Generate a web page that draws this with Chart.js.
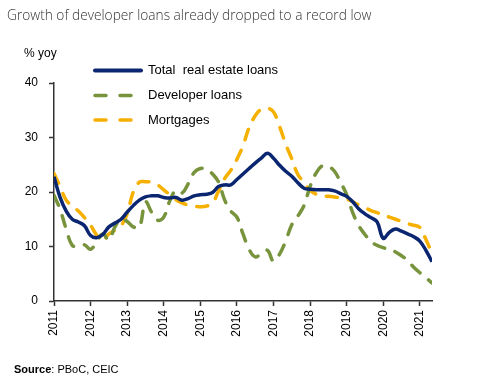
<!DOCTYPE html>
<html>
<head>
<meta charset="utf-8">
<title>Developer loans</title>
<script src="https://cdn.jsdelivr.net/npm/chart.js@4.4.0/dist/chart.umd.min.js"></script>
<style>
  html, body { margin: 0; padding: 0; background: #fff; }
  #wrap { width: 477px; height: 380px; position: relative; }
</style>
</head>
<body>
<div id="wrap"><canvas id="chart" width="477" height="380"></canvas></div>
<script>
// bimonthly observations, Jan 2011 .. May 2021 (decimal years)
const periods = Array.from({ length: 63 }, (_, i) => 2011 + i / 6);
const yearTicks = [2011, 2012, 2013, 2014, 2015, 2016, 2017, 2018, 2019, 2020, 2021];
const yTicks = [0, 10, 20, 30, 40];

const seriesNames = ['Total  real estate loans', 'Developer loans', 'Mortgages'];

const totalLoans = [
  22.8, 19.0, 16.5, 15.0, 14.5, 13.8, 12.0, 11.6, 12.2, 13.6,
  14.3, 15.0, 16.3, 17.5, 18.5, 19.1, 19.3, 19.3, 19.0, 18.9,
  19.0, 18.5, 18.8, 19.3, 19.5, 19.6, 19.9, 21.0, 21.3, 21.3,
  22.3, 23.3, 24.3, 25.3, 26.2, 27.1, 26.2, 24.9, 23.8, 22.9,
  21.7, 20.7, 20.5, 20.4, 20.4, 20.4, 20.2, 19.7, 19.2, 18.2,
  16.9, 16.0, 15.3, 14.5, 11.5, 12.6, 13.2, 12.8, 12.3, 11.8,
  11.0, 9.3, 7.2
];
const developerLoans = [
  19.4, 16.8, 13.2, 10.2, 10.2, 10.3, 9.5, 10.9, 12.3, 11.2,
  13.6, 15.0, 14.6, 13.6, 13.5, 18.2, 16.3, 14.8, 15.4, 18.4,
  20.3, 19.8, 21.5, 23.6, 24.3, 24.2, 23.3, 21.8, 18.5, 16.5,
  15.4, 12.3, 9.5, 8.1, 8.7, 9.3, 7.3, 8.6, 11.0, 14.0,
  15.6, 17.5, 21.0, 23.5, 24.8, 24.7, 23.8, 21.8, 19.5, 16.2,
  13.8, 12.2, 10.9, 10.2, 9.8, 9.4, 9.0, 8.3, 7.4, 6.2,
  5.2, 4.3, 3.3
];
const mortgages = [
  23.4, 21.0, 18.5, 17.4, 16.5, 15.3, 13.9, 12.1, 11.2, 12.3,
  13.0, 13.8, 16.0, 20.0, 21.8, 21.9, 21.8, 21.3, 20.4, 19.5,
  18.6, 18.0, 17.6, 17.4, 17.3, 17.4, 18.0, 20.2, 22.5, 24.0,
  26.0, 28.5, 31.8, 34.0, 35.2, 35.4, 34.7, 32.0, 28.8, 26.1,
  23.2, 21.8, 20.3, 19.6, 19.3, 19.2, 19.1, 18.9, 18.7, 18.2,
  17.6, 17.1, 16.6, 16.2, 15.8, 15.4, 15.0, 14.6, 14.2, 13.9,
  13.5, 11.3, 8.7
];

const NAVY = '#0b2670';
const GREEN = '#77933c';
const GOLD = '#f5b000';
const FONT = '"Liberation Sans", Arial, sans-serif';

function toPoints(values) {
  return values.map((v, i) => ({ x: periods[i], y: v }));
}

// titles, legend and source drawn on the canvas
const annotations = {
  id: 'annotations',
  afterDraw(chart) {
    const ctx = chart.ctx;
    ctx.save();
    ctx.fillStyle = '#333';
    ctx.font = '300 13.7px "Open Sans", sans-serif';
    ctx.textBaseline = 'alphabetic';
    ctx.fillText('Growth of developer loans already dropped to a record low', 7, 20);

    ctx.fillStyle = '#000';
    ctx.font = '12px ' + FONT;
    ctx.fillText('% yoy', 24, 57);

    // legend
    const rows = [70.5, 95.5, 120];
    chart.data.datasets.forEach((ds, i) => {
      const y = rows[i];
      ctx.beginPath();
      ctx.strokeStyle = ds.borderColor;
      ctx.lineWidth = i === 0 ? 4 : 3.5;
      ctx.lineCap = 'round';
      ctx.setLineDash(i === 0 ? [] : [11, 14]);
      ctx.moveTo(95, y);
      ctx.lineTo(i === 0 ? 141 : 131, y);
      ctx.stroke();
      ctx.setLineDash([]);
      ctx.fillStyle = '#000';
      ctx.font = '13px ' + FONT;
      ctx.textBaseline = 'middle';
      ctx.fillText(ds.label, 148, y);
    });

    // source
    ctx.textBaseline = 'alphabetic';
    ctx.font = 'bold 11px "Liberation Sans Narrow", ' + FONT;
    ctx.fillStyle = '#000';
    ctx.fillText('Source', 14, 373);
    const w = ctx.measureText('Source').width;
    ctx.font = '11px "Liberation Sans Narrow", ' + FONT;
    ctx.fillText(': PBoC, CEIC', 14 + w, 373);
    ctx.restore();
  }
};

new Chart(document.getElementById('chart'), {
  type: 'line',
  data: {
    datasets: [
      {
        label: seriesNames[0],
        data: toPoints(totalLoans),
        borderColor: NAVY,
        borderWidth: 3.5
      },
      {
        label: seriesNames[1],
        data: toPoints(developerLoans),
        borderColor: GREEN,
        borderWidth: 3.5,
        borderDash: [11, 11],
        borderCapStyle: 'round'
      },
      {
        label: seriesNames[2],
        data: toPoints(mortgages),
        borderColor: GOLD,
        borderWidth: 3.5,
        borderDash: [11, 11],
        borderCapStyle: 'round'
      }
    ]
  },
  options: {
    responsive: false,
    animation: false,
    devicePixelRatio: 1,
    elements: {
      point: { radius: 0 },
      line: { tension: 0.4, fill: false }
    },
    layout: { padding: { left: 0, top: 83, right: 45, bottom: 34 } },
    plugins: {
      legend: { display: false },
      tooltip: { enabled: false }
    },
    scales: {
      x: {
        type: 'linear',
        min: 2011,
        max: periods[periods.length - 1],
        afterBuildTicks: s => { s.ticks = yearTicks.map(v => ({ value: v })); },
        afterFit: s => { s.height = 45; },
        ticks: {
          callback: v => String(v),
          minRotation: 90,
          maxRotation: 90,
          color: '#000',
          padding: 4,
          font: { family: FONT, size: 12 }
        },
        grid: { drawOnChartArea: false, drawTicks: true, tickLength: 5, tickColor: '#333', tickWidth: 1.5 },
        border: { color: '#333', width: 1.5 }
      },
      y: {
        min: 0,
        max: 40,
        afterBuildTicks: s => { s.ticks = yTicks.map(v => ({ value: v })); },
        afterFit: s => { s.width = 54; },
        ticks: {
          color: '#000',
          padding: 11,
          font: { family: FONT, size: 12 }
        },
        grid: { drawOnChartArea: false, drawTicks: true, tickLength: 5, tickColor: '#333', tickWidth: 1.5 },
        border: { color: '#333', width: 1.5 }
      }
    }
  },
  plugins: [annotations]
});
</script>
</body>
</html>
